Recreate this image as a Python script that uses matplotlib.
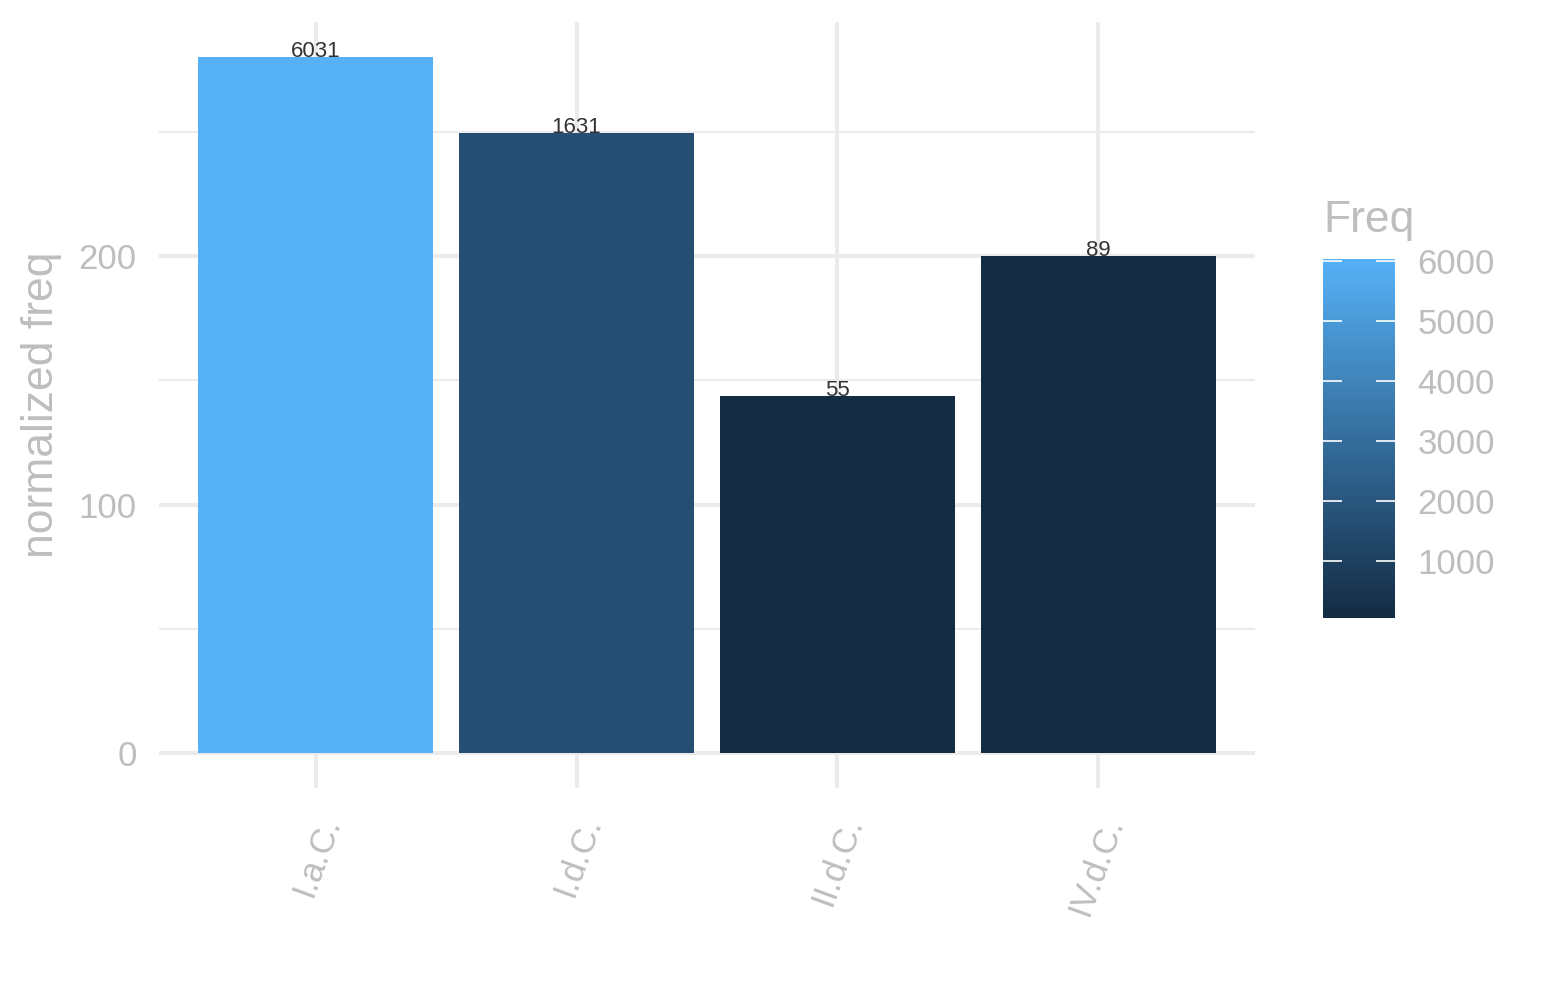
import numpy as np
import matplotlib
matplotlib.use('Agg')
import matplotlib.pyplot as plt
from matplotlib.colors import LinearSegmentedColormap, Normalize
from matplotlib.cm import ScalarMappable

plt.rcParams['font.family'] = ['Liberation Sans', 'DejaVu Sans']

periods = ['I.a.C.', 'I.d.C.', 'II.d.C.', 'IV.d.C.']
norm_freq = [280.2, 249.6, 143.6, 200.0]
freq = [6031, 1631, 55, 89]
cbar_ticks = [1000, 2000, 3000, 4000, 5000, 6000]
y_major = [0, 100, 200]
y_minor = [50, 150, 250]

grey_txt = '#BEBEBE'
grid_col = '#EBEBEB'

# ggplot-ish continuous fill scale
cmap = LinearSegmentedColormap.from_list('gg', ['#132B43', '#56B1F7'])
norm = Normalize(vmin=min(freq), vmax=max(freq))

fig = plt.figure(figsize=(15.45, 10), dpi=100)
ax = fig.add_axes([0.1029, 0.212, 0.7094, 0.766])

x = np.arange(len(periods))
ax.bar(x, norm_freq, width=0.9, color=cmap(norm(np.array(freq))), zorder=3)

for xi, h, f in zip(x, norm_freq, freq):
    ax.text(xi, h, str(f), ha='center', va='baseline', fontsize=16,
            color='#333333', zorder=4)

ymax = max(norm_freq)
ax.set_xlim(-0.6, len(periods) - 0.4)
ax.set_ylim(-0.05 * ymax, 1.05 * ymax)

ax.set_yticks(y_major)
ax.set_yticks(y_minor, minor=True)
ax.set_xticks(x)
ax.set_xticklabels(periods, rotation=70, rotation_mode='anchor',
                   ha='right', va='top')

ax.grid(True, which='major', color=grid_col, linewidth=2.9, zorder=0)
ax.grid(True, which='minor', axis='y', color=grid_col, linewidth=1.5, zorder=0)
ax.tick_params(axis='both', which='both', length=0, labelsize=25,
               labelcolor=grey_txt)
ax.tick_params(axis='y', pad=16)
ax.tick_params(axis='x', pad=17)
for s in ax.spines.values():
    s.set_visible(False)
ax.set_ylabel('normalized freq', fontsize=32, color=grey_txt, labelpad=12)

# colour bar legend
cax = fig.add_axes([0.8563, 0.382, 0.0466, 0.359])
sm = ScalarMappable(norm=norm, cmap=cmap)
cb = fig.colorbar(sm, cax=cax, ticks=cbar_ticks)
cb.outline.set_visible(False)
cax.tick_params(direction='in', length=14, width=1.2, color='white',
                left=True, right=True, labelsize=25, labelcolor=grey_txt)
cax.yaxis.set_tick_params(pad=16)
fig.text(0.8563, 0.768, 'Freq', fontsize=32, color=grey_txt,
         ha='left', va='baseline')

fig.savefig('out.png', dpi=100, facecolor='white')
